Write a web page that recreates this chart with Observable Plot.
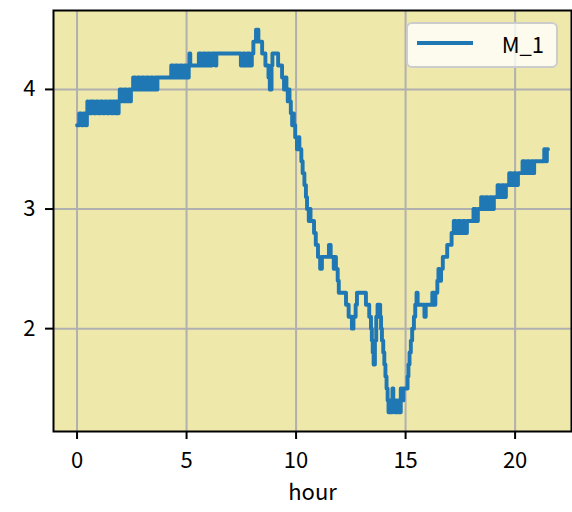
<!DOCTYPE html>
<html>
<head>
<meta charset="utf-8">
<script src="https://cdn.jsdelivr.net/npm/d3@7"></script>
<script src="https://cdn.jsdelivr.net/npm/@observablehq/plot@0.6"></script>
<style>
  html, body { margin: 0; padding: 0; background: white; }
</style>
</head>
<body>
<div id="chart"></div>
<script>
// ---- data ----
const seriesName = "M_1";
const xTicks = [0, 5, 10, 15, 20];
const yTicks = [2, 3, 4];
const hours = [
  0.00,0.10,0.20,0.30,0.40,0.45,0.47,0.50,0.60,0.63,
  0.67,0.77,0.87,0.97,1.07,1.17,1.27,1.37,1.47,1.57,
  1.65,1.73,1.78,1.84,1.90,1.95,2.05,2.15,2.25,2.35,
  2.42,2.46,2.56,2.66,2.76,2.86,2.96,3.06,3.16,3.26,
  3.36,3.46,3.56,3.62,3.67,4.30,4.40,4.50,4.60,4.70,
  4.80,4.90,5.00,5.10,5.13,5.17,5.56,5.66,5.76,5.86,
  5.96,6.06,6.16,6.32,6.36,7.48,7.58,7.68,7.78,7.88,
  7.98,8.05,8.17,8.28,8.45,8.60,8.74,8.80,8.88,8.92,
  9.18,9.36,9.45,9.50,9.56,9.62,9.66,9.70,9.76,9.82,
  9.86,9.90,9.96,10.04,10.10,10.15,10.24,10.30,10.38,10.45,
  10.50,10.58,10.62,10.66,10.82,10.90,11.00,11.10,11.18,11.50,
  11.58,11.72,11.76,11.82,11.90,11.95,12.28,12.40,12.55,12.62,
  12.72,12.78,13.19,13.34,13.42,13.46,13.50,13.54,13.60,13.66,
  13.72,13.84,13.88,13.92,13.98,14.03,14.08,14.13,14.18,14.22,
  14.28,14.34,14.40,14.44,14.50,14.56,14.62,14.68,14.72,14.78,
  14.84,14.90,15.09,15.13,15.18,15.24,15.30,15.38,15.44,15.50,
  15.55,15.86,15.92,16.22,16.32,16.36,16.45,16.50,16.56,16.62,
  16.70,16.90,17.10,17.20,17.30,17.40,17.50,17.60,17.70,17.80,
  18.10,18.20,18.30,18.45,18.55,18.65,18.75,18.85,18.95,19.03,
  19.20,19.30,19.40,19.50,19.58,19.73,19.83,19.93,20.03,20.13,
  20.34,20.44,20.54,20.64,20.74,20.82,20.87,21.33,21.40,21.45,
  21.50
];
const values = [
  3.7,3.8,3.7,3.8,3.7,3.8,3.9,3.8,3.9,3.8,
  3.9,3.8,3.9,3.8,3.9,3.8,3.9,3.8,3.9,3.8,
  3.9,3.8,3.9,3.8,3.9,4.0,3.9,4.0,3.9,4.0,
  3.9,4.0,4.1,4.0,4.1,4.0,4.1,4.0,4.1,4.0,
  4.1,4.0,4.1,4.0,4.1,4.2,4.1,4.2,4.1,4.2,
  4.1,4.2,4.1,4.2,4.3,4.2,4.3,4.2,4.3,4.2,
  4.3,4.2,4.3,4.2,4.3,4.2,4.3,4.2,4.3,4.2,
  4.3,4.4,4.5,4.4,4.3,4.2,4.1,4.0,4.2,4.3,
  4.2,4.1,4.0,4.1,4.0,3.9,4.0,3.9,3.8,3.7,
  3.8,3.7,3.6,3.5,3.6,3.5,3.4,3.3,3.2,3.1,
  3.0,2.9,3.0,2.9,2.8,2.7,2.6,2.5,2.6,2.7,
  2.6,2.5,2.6,2.5,2.4,2.3,2.2,2.1,2.0,2.1,
  2.2,2.3,2.2,2.1,2.0,1.9,1.8,1.7,1.9,2.1,
  2.2,2.1,2.0,1.9,1.8,1.7,1.6,1.5,1.4,1.3,
  1.4,1.3,1.5,1.4,1.3,1.4,1.3,1.4,1.3,1.5,
  1.4,1.5,1.6,1.7,1.8,1.9,2.0,2.1,2.2,2.3,
  2.2,2.1,2.2,2.3,2.2,2.3,2.4,2.5,2.4,2.5,
  2.6,2.7,2.8,2.9,2.8,2.9,2.8,2.9,2.8,2.9,
  3.0,2.9,3.0,3.1,3.0,3.1,3.0,3.1,3.0,3.1,
  3.2,3.1,3.2,3.1,3.2,3.3,3.2,3.3,3.2,3.3,
  3.4,3.3,3.4,3.3,3.4,3.3,3.4,3.5,3.4,3.5,
  3.5
];
const data = hours.map((h, i) => ({hour: h, value: values[i]}));

// ---- chart ----
const W = 572, H = 512;
const mL = 53, mR = 1, mT = 10, mB = 81;
const FONT = "'Noto Sans CJK JP', 'Noto Sans', sans-serif";
const FS = 22;
const lineColor = "#1f77b4";

const xMin = d3.min(hours), xMax = d3.max(hours);
const yMin = d3.min(values), yMax = d3.max(values);
const xPad = (xMax - xMin) * 0.05, yPad = (yMax - yMin) * 0.05;

const chart = Plot.plot({
  width: W, height: H,
  marginLeft: mL, marginRight: mR, marginTop: mT, marginBottom: mB,
  style: {fontFamily: FONT, background: "white", color: "black"},
  x: {domain: [xMin - xPad, xMax + xPad]},
  y: {domain: [yMin - yPad, yMax + yPad]},
  marks: [
    Plot.frame({fill: "#eee8aa", stroke: null}),
    Plot.gridX(xTicks, {stroke: "#b0b0b0", strokeOpacity: 1, strokeWidth: 2}),
    Plot.gridY(yTicks, {stroke: "#b0b0b0", strokeOpacity: 1, strokeWidth: 2}),
    Plot.line(data, {x: "hour", y: "value", curve: "step-after", stroke: lineColor, strokeWidth: 3.9, strokeLinejoin: "round", strokeLinecap: "round"}),
    Plot.frame({stroke: "black", strokeWidth: 2}),
    Plot.axisX({ticks: xTicks, tickFormat: "d", tickSize: 8, tickPadding: 13, strokeWidth: 2, fontSize: FS,
      label: "hour", labelAnchor: "center", labelArrow: "none", labelOffset: 68}),
    Plot.axisY({ticks: yTicks, tickFormat: "d", tickSize: 8, tickPadding: 10, strokeWidth: 2, fontSize: FS, label: null})
  ]
});

// legend (upper right, matplotlib-like)
const svg = d3.select(chart);
const fx1 = W - mR;
const lg = svg.append("g").attr("class", "legend");
const bx = fx1 - 164, by = mT + 13, bw = 150, bh = 44;
lg.append("rect").attr("x", bx).attr("y", by).attr("width", bw).attr("height", bh)
  .attr("rx", 5).attr("ry", 5)
  .attr("fill", "white").attr("fill-opacity", 0.8)
  .attr("stroke", "#cccccc").attr("stroke-width", 2);
lg.append("line").attr("x1", bx + 10).attr("x2", bx + 66)
  .attr("y1", by + 20).attr("y2", by + 20)
  .attr("stroke", lineColor).attr("stroke-width", 3.9);
lg.append("text").attr("x", bx + 137).attr("y", by + 30)
  .attr("text-anchor", "end")
  .attr("font-family", FONT).attr("font-size", FS).attr("fill", "black")
  .text(seriesName);

document.getElementById("chart").appendChild(chart);
</script>
</body>
</html>
